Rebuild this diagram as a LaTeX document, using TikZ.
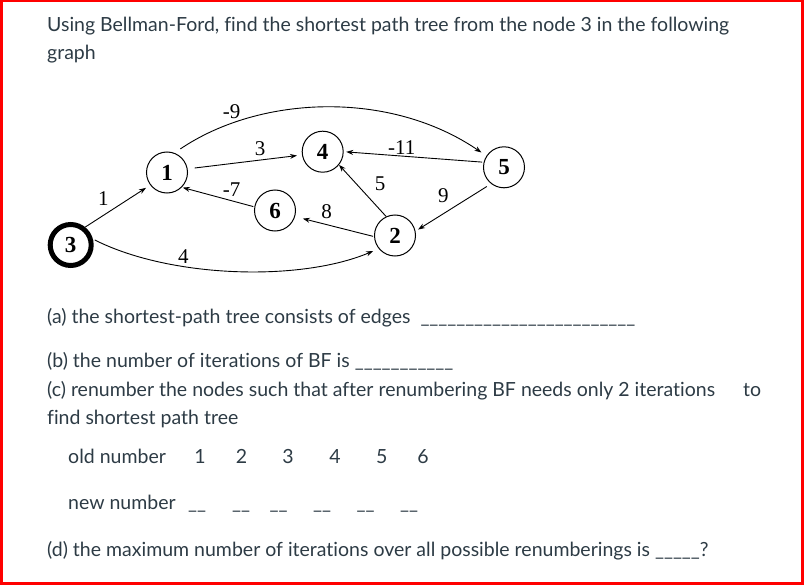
\documentclass[tikz,border=0pt]{standalone}
\usepackage{fontspec}
\setmainfont[Ligatures=NoCommon]{Lato}
\newfontfamily\graphfont{Liberation Serif}
\usetikzlibrary{arrows.meta}
\definecolor{bodytext}{HTML}{2D3B45}
\definecolor{frame}{HTML}{FF0000}
\tikzset{
  vertex/.style={circle,draw=black,line width=1pt,minimum size=41pt,inner sep=0pt,
    font=\graphfont\fontsize{23}{23}\selectfont\bfseries},
  source/.style={vertex,line width=5pt,minimum size=41pt},
  edge/.style={line width=0.9pt,-{Stealth[length=7pt,width=5pt]}},
  wlabel/.style={font=\graphfont\fontsize{21}{21}\selectfont,inner sep=0pt},
  bodyline/.style={anchor=base west,inner sep=0pt,text=bodytext,font=\fontsize{19.5}{22}\selectfont},
}
\begin{document}
\begin{tikzpicture}[x=1pt,y=-1pt]
\useasboundingbox (0,0) rectangle (804,586);
\draw[frame,line width=3pt] (1.5,0.5) rectangle (802.5,583.5);

% question text
\node[bodyline] (q1) at (47,32) {Using Bellman-Ford, find the shortest path tree from the node 3 in the following};
\node[bodyline] (q2) at (47,60) {graph};

% graph
\node[source] (n3) at (70.7,245) {3};
\node[vertex] (n1) at (167,172.5) {1};
\node[vertex] (n4) at (322.7,151.7) {4};
\node[vertex] (n6) at (275,210.5) {6};
\node[vertex] (n2) at (395,235.5) {2};
\node[vertex] (n5) at (504,167.3) {5};

\draw[edge,shorten >=5pt] (n3.51) -- (n1.217);
\draw[edge,shorten <=7pt,shorten >=5pt] (n1.10) -- (n4.189);
\draw[edge,shorten <=1pt,shorten >=1pt] (n6.170) -- (n1.-45);
\draw[edge,shorten <=1pt,shorten >=8pt] (n2.183) -- (n6.-17);
\draw[edge] (n2.115) -- (n4.-39);
\draw[edge,shorten <=1.5pt,shorten >=2.5pt] (n5.166) -- (n4.0);
\draw[edge,shorten <=5pt,shorten >=3pt] (n5.232) -- (n2.12);
\draw[edge,shorten <=7pt,shorten >=6pt] (n1.69) .. controls (260,95) and (390,90) .. (n5.147);
\draw[edge,shorten <=2pt,shorten >=6pt] (n3.15) .. controls (170,278) and (300,282) .. (n2.219);

\node[wlabel] (l13) at (103.3,198.3) {1};
\node[wlabel] (l14) at (260,148.3) {3};
\node[wlabel] (l61) at (231.7,190) {-7};
\node[wlabel] (l26) at (326.7,211.7) {8};
\node[wlabel] (l32) at (183.3,256.7) {4};
\node[wlabel] (l15) at (231.7,111.7) {-9};
\node[wlabel] (l54) at (401.7,147.5) {-11};
\node[wlabel] (l24) at (380,183.3) {5};
\node[wlabel] (l52) at (443.3,196) {9};

% parts
\node[bodyline] (pa) at (47,323) {(a) the shortest-path tree consists of edges \ \_\_\_\_\_\_\_\_\_\_\_\_\_\_\_\_\_\_\_\_\_\_\_\_};
\node[bodyline] (pb) at (47,367) {(b) the number of iterations of BF is \_\_\_\_\_\_\_\_\_\_\_};
\node[bodyline] (pc) at (47,396) {(c) renumber the nodes such that after renumbering BF needs only 2 iterations};
\node[bodyline] (pcto) at (743,396) {to};
\node[bodyline] (pc2) at (47,424) {find shortest path tree};

\node[bodyline] (oldlab) at (68,463) {old number};
\foreach \x/\t in {200/1,241.5/2,288/3,335/4,381.7/5,423/6}
  \node[bodyline,anchor=base] at (\x,463) {\t};

\node[bodyline] (newlab) at (68,509) {new number};
\foreach \x in {197,241,278.5,322,365.5,409}
  \node[bodyline,anchor=base] at (\x,509) {\_\_};

\node[bodyline] (pd) at (47,556) {(d) the maximum number of iterations over all possible renumberings is \_\_\_\_\_?};
\end{tikzpicture}
\end{document}
